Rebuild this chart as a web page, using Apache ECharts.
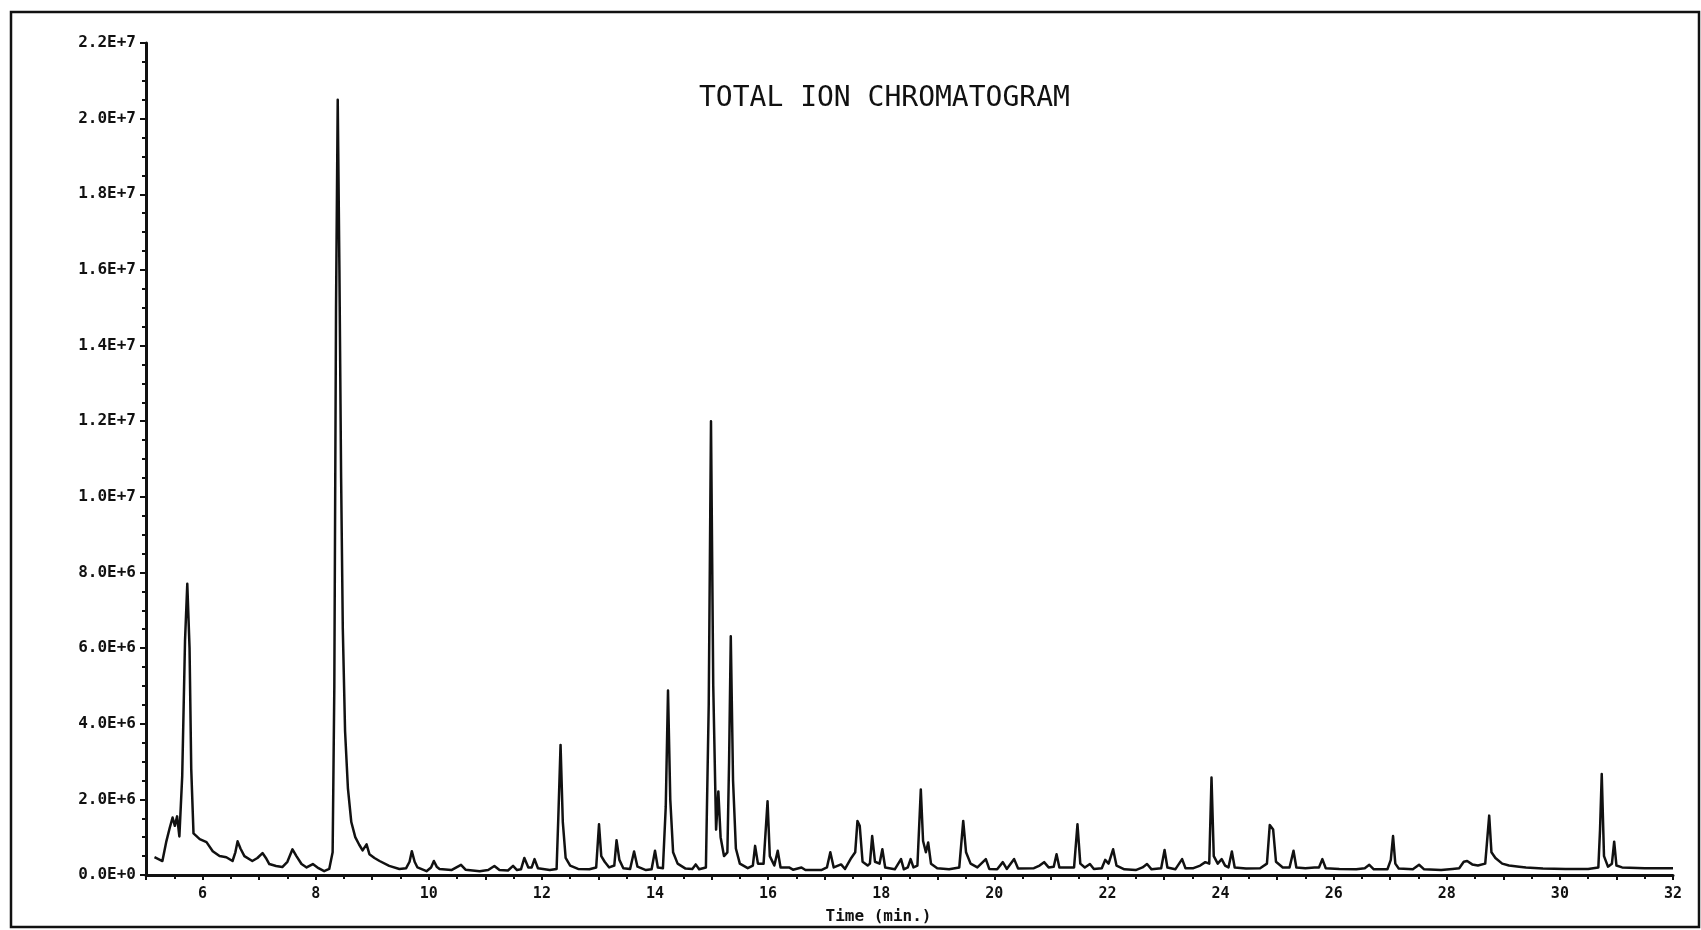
<!DOCTYPE html>
<html>
<head>
<meta charset="utf-8">
<title>Total Ion Chromatogram</title>
<script src="https://cdn.jsdelivr.net/npm/echarts@6/dist/echarts.min.js"></script>
<style>
  html, body { margin: 0; padding: 0; background: #ffffff; }
  #chart { width: 1701px; height: 930px; }
</style>
</head>
<body>
<div id="chart"></div>
<script>
// Retention time (min) of each trace vertex
const retentionTime = [
  5.15, 5.22, 5.29, 5.36, 5.42, 5.47, 5.51, 5.55, 5.59, 5.64, 5.69, 5.73, 5.77, 5.80, 5.84,
  5.95, 6.07, 6.18, 6.30, 6.42, 6.53, 6.58, 6.62, 6.67, 6.74, 6.88, 6.97, 7.06, 7.12, 7.18,
  7.30, 7.41, 7.50, 7.59, 7.66, 7.75, 7.84, 7.95, 8.05, 8.15, 8.24, 8.30, 8.33, 8.36, 8.39,
  8.42, 8.45, 8.48, 8.52, 8.57, 8.63, 8.70, 8.77, 8.83, 8.90, 8.95, 9.04, 9.13, 9.30, 9.48,
  9.60, 9.66, 9.70, 9.75, 9.80, 9.96, 10.04, 10.09, 10.14, 10.19, 10.40, 10.57, 10.65, 10.90, 11.05,
  11.16, 11.25, 11.40, 11.49, 11.56, 11.63, 11.69, 11.76, 11.82, 11.87, 11.93, 12.14, 12.26, 12.29, 12.33,
  12.37, 12.42, 12.50, 12.64, 12.84, 12.96, 13.01, 13.05, 13.11, 13.19, 13.28, 13.32, 13.37, 13.44, 13.56,
  13.63, 13.69, 13.84, 13.94, 14.00, 14.05, 14.14, 14.19, 14.23, 14.27, 14.32, 14.40, 14.54, 14.66, 14.72,
  14.78, 14.90, 14.95, 14.99, 15.03, 15.08, 15.12, 15.16, 15.22, 15.28, 15.31, 15.34, 15.38, 15.43, 15.50,
  15.64, 15.73, 15.77, 15.82, 15.92, 15.99, 16.03, 16.11, 16.17, 16.22, 16.37, 16.44, 16.59, 16.66, 16.94,
  17.04, 17.10, 17.16, 17.29, 17.36, 17.47, 17.54, 17.58, 17.62, 17.67, 17.76, 17.80, 17.84, 17.89, 17.97,
  18.02, 18.07, 18.24, 18.35, 18.40, 18.47, 18.52, 18.57, 18.64, 18.70, 18.74, 18.79, 18.83, 18.88, 18.99,
  19.20, 19.38, 19.45, 19.50, 19.58, 19.70, 19.85, 19.91, 20.05, 20.15, 20.22, 20.35, 20.42, 20.70, 20.80,
  20.88, 20.96, 21.05, 21.10, 21.15, 21.41, 21.47, 21.52, 21.60, 21.69, 21.76, 21.90, 21.96, 22.02, 22.10,
  22.16, 22.30, 22.50, 22.62, 22.70, 22.78, 22.95, 23.01, 23.06, 23.20, 23.32, 23.38, 23.52, 23.64, 23.73,
  23.80, 23.84, 23.88, 23.95, 24.02, 24.08, 24.14, 24.20, 24.25, 24.45, 24.70, 24.82, 24.87, 24.93, 24.98,
  25.10, 25.22, 25.29, 25.34, 25.50, 25.66, 25.74, 25.80, 25.86, 26.10, 26.40, 26.55, 26.63, 26.71, 26.95,
  27.01, 27.05, 27.09, 27.15, 27.40, 27.51, 27.60, 27.90, 28.10, 28.22, 28.30, 28.36, 28.45, 28.55, 28.68,
  28.75, 28.79, 28.86, 28.98, 29.10, 29.28, 29.40, 29.70, 30.10, 30.50, 30.68, 30.71, 30.74, 30.78, 30.85,
  30.92, 30.96, 31.00, 31.10, 31.50, 32.00
];

// Total ion abundance at each vertex, in millions of counts
const ionCountMillions = [
  0.47, 0.42, 0.37, 0.89, 1.25, 1.52, 1.30, 1.55, 1.02, 2.60, 6.20, 7.70, 6.00, 2.80, 1.10,
  0.95, 0.87, 0.63, 0.50, 0.47, 0.37, 0.60, 0.89, 0.70, 0.50, 0.37, 0.45, 0.58, 0.45, 0.29,
  0.24, 0.21, 0.35, 0.68, 0.50, 0.29, 0.20, 0.29, 0.18, 0.10, 0.16, 0.60, 5.00, 15.00, 20.50,
  16.00, 10.50, 6.50, 3.80, 2.30, 1.40, 1.00, 0.80, 0.65, 0.81, 0.55, 0.45, 0.37, 0.24, 0.16,
  0.18, 0.35, 0.63, 0.35, 0.20, 0.10, 0.20, 0.37, 0.22, 0.16, 0.13, 0.27, 0.14, 0.10, 0.13,
  0.24, 0.13, 0.12, 0.24, 0.13, 0.15, 0.45, 0.20, 0.20, 0.42, 0.18, 0.13, 0.16, 1.50, 3.44,
  1.40, 0.45, 0.25, 0.16, 0.15, 0.20, 1.34, 0.50, 0.35, 0.20, 0.25, 0.92, 0.40, 0.18, 0.16,
  0.62, 0.22, 0.13, 0.15, 0.64, 0.20, 0.18, 1.80, 4.88, 2.00, 0.60, 0.30, 0.17, 0.16, 0.28,
  0.15, 0.20, 4.50, 12.00, 5.00, 1.20, 2.21, 1.00, 0.50, 0.60, 3.00, 6.31, 2.50, 0.70, 0.30,
  0.18, 0.25, 0.77, 0.30, 0.30, 1.95, 0.50, 0.25, 0.64, 0.20, 0.20, 0.14, 0.20, 0.13, 0.13,
  0.20, 0.60, 0.20, 0.28, 0.16, 0.45, 0.60, 1.43, 1.30, 0.35, 0.25, 0.30, 1.03, 0.35, 0.30,
  0.68, 0.20, 0.15, 0.42, 0.15, 0.20, 0.42, 0.20, 0.25, 2.26, 0.90, 0.60, 0.86, 0.30, 0.18,
  0.15, 0.20, 1.43, 0.60, 0.30, 0.20, 0.42, 0.16, 0.15, 0.34, 0.16, 0.42, 0.17, 0.18, 0.25,
  0.34, 0.20, 0.22, 0.55, 0.20, 0.20, 1.34, 0.30, 0.20, 0.29, 0.16, 0.18, 0.40, 0.30, 0.68,
  0.25, 0.15, 0.13, 0.20, 0.29, 0.15, 0.18, 0.66, 0.20, 0.15, 0.42, 0.18, 0.18, 0.25, 0.34,
  0.30, 2.58, 0.50, 0.30, 0.42, 0.25, 0.20, 0.62, 0.20, 0.17, 0.18, 0.30, 1.32, 1.20, 0.35,
  0.20, 0.20, 0.64, 0.20, 0.18, 0.20, 0.20, 0.42, 0.18, 0.16, 0.15, 0.18, 0.27, 0.15, 0.15,
  0.40, 1.03, 0.30, 0.17, 0.15, 0.27, 0.15, 0.13, 0.16, 0.18, 0.35, 0.37, 0.28, 0.25, 0.30,
  1.57, 0.60, 0.45, 0.30, 0.25, 0.22, 0.20, 0.17, 0.16, 0.16, 0.20, 1.20, 2.67, 0.50, 0.22,
  0.30, 0.88, 0.25, 0.20, 0.18, 0.18
];

// Labelled positions on the time axis
const timeTickLabels = [6, 8, 10, 12, 14, 16, 18, 20, 22, 24, 26, 28, 30, 32];

// Abundance axis labels, one per 2 million counts from zero up
const abundanceTickLabels = [
  '0.0E+0', '2.0E+6', '4.0E+6', '6.0E+6', '8.0E+6', '1.0E+7',
  '1.2E+7', '1.4E+7', '1.6E+7', '1.8E+7', '2.0E+7', '2.2E+7'
];

const trace = retentionTime.map((t, i) => [t, ionCountMillions[i]]);

const ink = '#111111';
const mono = '"DejaVu Sans Mono", "Liberation Mono", monospace';

const chart = echarts.init(document.getElementById('chart'), null, { renderer: 'canvas' });

chart.setOption({
  animation: false,
  backgroundColor: '#ffffff',
  title: {
    text: 'TOTAL ION CHROMATOGRAM',
    left: 694,
    top: 80,
    textStyle: { fontFamily: mono, fontSize: 28, fontWeight: 'normal', color: ink }
  },
  graphic: [{
    type: 'rect',
    shape: { x: 11, y: 12, width: 1688, height: 915 },
    style: { fill: 'none', stroke: ink, lineWidth: 2.5 },
    silent: true
  }],
  grid: { left: 146, right: 28, top: 43, bottom: 49 },
  xAxis: {
    type: 'value',
    min: 5,
    max: 32,
    interval: 1,
    name: 'Time (min.)',
    nameLocation: 'middle',
    nameGap: 34,
    nameTextStyle: {
      fontFamily: mono, fontSize: 16, fontWeight: 'bold', color: ink,
      padding: [0, 62, 0, 0]
    },
    axisLine: { show: true, onZero: false, lineStyle: { color: ink, width: 3 } },
    axisTick: { show: true, length: 5, lineStyle: { color: ink, width: 2 } },
    minorTick: { show: true, splitNumber: 2, length: 4, lineStyle: { color: ink, width: 2 } },
    axisLabel: {
      margin: 12,
      fontFamily: mono, fontSize: 15, fontWeight: 'bold', color: ink,
      formatter: v => (timeTickLabels.includes(v) ? String(v) : '')
    },
    splitLine: { show: false }
  },
  yAxis: {
    type: 'value',
    min: 0,
    max: 22,
    interval: 2,
    axisLine: { show: true, lineStyle: { color: ink, width: 3 } },
    axisTick: { show: true, length: 6, lineStyle: { color: ink, width: 2 } },
    minorTick: { show: true, splitNumber: 4, length: 4, lineStyle: { color: ink, width: 2 } },
    axisLabel: {
      margin: 10,
      fontFamily: mono, fontSize: 16, fontWeight: 'bold', color: ink,
      formatter: v => abundanceTickLabels[Math.round(v / 2)]
    },
    splitLine: { show: false }
  },
  series: [{
    type: 'line',
    name: 'TIC',
    data: trace,
    showSymbol: false,
    smooth: false,
    lineStyle: { color: ink, width: 2.5, join: 'round' },
    silent: true
  }]
});
</script>
</body>
</html>
